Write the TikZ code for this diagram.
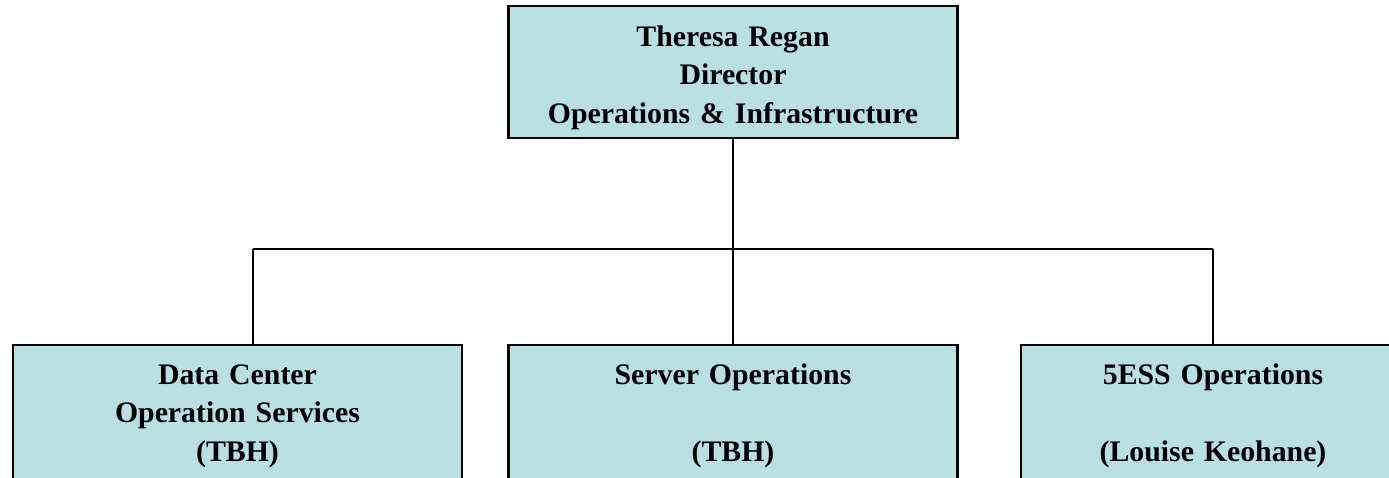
\documentclass[tikz,border=0pt]{standalone}
\usepackage{fontspec}
\setmainfont[WordSpace=0.75]{Liberation Serif}
\definecolor{boxfill}{RGB}{186,223,226}
\tikzset{
  orgbox/.style={draw=black, line width=2.2pt, fill=boxfill, rectangle,
    minimum width=449pt, text width=440pt, align=center, inner sep=0pt,
    font=\fontsize{29.8}{38.5}\selectfont\bfseries},
  link/.style={draw=black, line width=2.2pt}
}
\begin{document}
\begin{tikzpicture}[x=1pt,y=1pt]
        % Frame of the page
        \useasboundingbox (0,0) rectangle (1389,478);
        \clip (0,0) rectangle (1389,478);

        % Director box
        \node[orgbox, minimum height=132pt] (director) at (733,406)
          {\rule{0pt}{32pt}Theresa Regan\\Director\\Operations \& Infrastructure};

        % The three groups
        \node[orgbox, minimum height=142pt] (datacenter) at (237.5,62)
          {Data Center\\Operation Services\\(TBH)};
        \node[orgbox, minimum height=142pt] (server) at (733,62)
          {Server Operations\\[38.5pt](TBH)};
        \node[orgbox, minimum height=142pt, minimum width=384pt, text width=380pt] (fivess) at (1213,62)
          {5ESS Operations\\[38.5pt](Louise Keohane)};

        % Bus ends
        \coordinate (busL) at (253,229);
        \coordinate (busR) at (1213,229);

        % Connectors
        \draw[link] (director.south) -- (director.south |- busL);
        \draw[link] (busL) -- (busR);
        \draw[link] (busL) -- (busL |- datacenter.north);
        \draw[link] (director.south |- busL) -- (server.north);
        \draw[link] (busR) -- (fivess.north);
\end{tikzpicture}
\end{document}
